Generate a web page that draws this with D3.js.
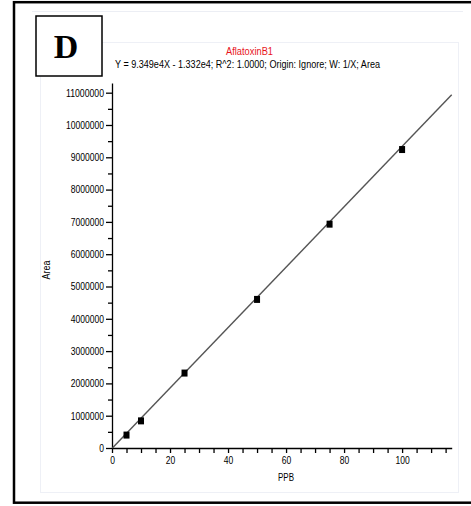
<!DOCTYPE html>
<html>
<head>
<meta charset="utf-8">
<script src="https://cdn.jsdelivr.net/npm/d3@7"></script>
<style>
  body { margin: 0; background: #fff; }
  svg { display: block; }
  .tick text { font-family: "Liberation Sans", Arial, sans-serif; font-size: 10.5px; fill: #000; }
</style>
</head>
<body>
<svg id="chart"></svg>
<script>
// calibration standards (PPB) and measured peak area
var ppb = [5, 10, 25, 50, 75, 100];
var area = [400000, 840000, 2320000, 4600000, 6930000, 9240000];
// fitted line: Y = 9.349e4X - 1.332e4
var slope = 93490, intercept = -13320;
var xMajor = [0, 20, 40, 60, 80, 100];
var xMinor = [5, 10, 15, 25, 30, 35, 45, 50, 55, 65, 70, 75, 85, 90, 95, 105, 110, 115];
var yMajor = [0, 1000000, 2000000, 3000000, 4000000, 5000000, 6000000, 7000000, 8000000, 9000000, 10000000, 11000000];
var yMinor = [500000, 1500000, 2500000, 3500000, 4500000, 5500000, 6500000, 7500000, 8500000, 9500000, 10500000];

var width = 471, height = 506;
var svg = d3.select("#chart").attr("width", width).attr("height", height);

// faint panel frames
svg.append("line").attr("x1", 32).attr("x2", 463).attr("y1", 11.5).attr("y2", 11.5)
  .attr("stroke", "#eceef4").attr("stroke-width", 1);
svg.append("rect").attr("x", 40.5).attr("y", 42.5).attr("width", 418).attr("height", 450)
  .attr("fill", "none").attr("stroke", "#eef0f6").attr("stroke-width", 1);

// outer black frame
svg.append("rect").attr("x", 14).attr("y", 2.2).attr("width", 470).attr("height", 500.5)
  .attr("fill", "none").attr("stroke", "#000").attr("stroke-width", 2.5);

// panel letter box
svg.append("rect").attr("x", 36).attr("y", 16).attr("width", 66).attr("height", 60)
  .attr("fill", "#fff").attr("stroke", "#000").attr("stroke-width", 1.5);
svg.append("text").attr("x", 66).attr("y", 58).attr("text-anchor", "middle")
  .style("font-family", "'Liberation Serif', 'Times New Roman', serif")
  .style("font-weight", "bold").style("font-size", "34px").text("D");

// titles
svg.append("text").attr("x", 249.5).attr("y", 54.5).attr("text-anchor", "middle")
  .attr("textLength", 47).attr("lengthAdjust", "spacingAndGlyphs")
  .style("font-family", "'Liberation Sans', Arial, sans-serif").style("font-size", "10px")
  .attr("fill", "#e8141c").text("AflatoxinB1");
svg.append("text").attr("x", 115).attr("y", 67.5)
  .attr("textLength", 265).attr("lengthAdjust", "spacingAndGlyphs")
  .style("font-family", "'Liberation Sans', Arial, sans-serif").style("font-size", "10.5px")
  .text("Y = 9.349e4X - 1.332e4; R^2: 1.0000; Origin: Ignore; W: 1/X; Area");

var xScale = d3.scaleLinear().domain([0, 117.1]).range([112, 451.7]);
var yScale = d3.scaleLinear().domain([0, 11300000]).range([448, 83]);

// condensed tick labels like the instrument software font
function narrow(sel) {
  sel.selectAll(".tick text")
    .attr("textLength", function () { return this.textContent.length * 4.75; })
    .attr("lengthAdjust", "spacingAndGlyphs");
}

// x axis
svg.append("g").attr("transform", "translate(0,448)")
  .call(d3.axisBottom(xScale).tickValues(xMinor).tickSize(5).tickFormat(""))
  .call(g => g.select(".domain").remove());
svg.append("g").attr("transform", "translate(0,448)")
  .call(d3.axisBottom(xScale).tickValues(xMajor).tickSizeInner(5).tickSizeOuter(0).tickPadding(4).tickFormat(d3.format("d")))
  .call(narrow);

// y axis
svg.append("g").attr("transform", "translate(112,0)")
  .call(d3.axisLeft(yScale).tickValues(yMinor).tickSize(4).tickFormat(""))
  .call(g => g.select(".domain").remove());
svg.append("g").attr("transform", "translate(112,0)")
  .call(d3.axisLeft(yScale).tickValues(yMajor).tickSizeInner(6).tickSizeOuter(0).tickPadding(2).tickFormat(d3.format("d")))
  .call(narrow);
svg.selectAll(".domain, .tick line").attr("stroke", "#000").attr("stroke-width", 1.3);

// axis titles
svg.append("text").attr("x", 286).attr("y", 481).attr("text-anchor", "middle")
  .attr("textLength", 16).attr("lengthAdjust", "spacingAndGlyphs")
  .style("font-family", "'Liberation Sans', Arial, sans-serif").style("font-size", "10.5px")
  .text("PPB");
svg.append("text").attr("transform", "translate(50,270) rotate(-90)").attr("text-anchor", "middle")
  .attr("textLength", 19).attr("lengthAdjust", "spacingAndGlyphs")
  .style("font-family", "'Liberation Sans', Arial, sans-serif").style("font-size", "10.5px")
  .text("Area");

// regression line
var x0 = -intercept / slope, x1 = 117.1;
svg.append("line")
  .attr("x1", xScale(x0)).attr("y1", yScale(slope * x0 + intercept))
  .attr("x2", xScale(x1)).attr("y2", yScale(slope * x1 + intercept))
  .attr("stroke", "#555").attr("stroke-width", 1.4);

// data points
svg.selectAll("rect.pt").data(ppb).join("rect").attr("class", "pt")
  .attr("x", (d) => xScale(d) - 3).attr("y", (d, i) => yScale(area[i]) - 3.5)
  .attr("width", 6).attr("height", 7).attr("fill", "#000");
</script>
</body>
</html>
